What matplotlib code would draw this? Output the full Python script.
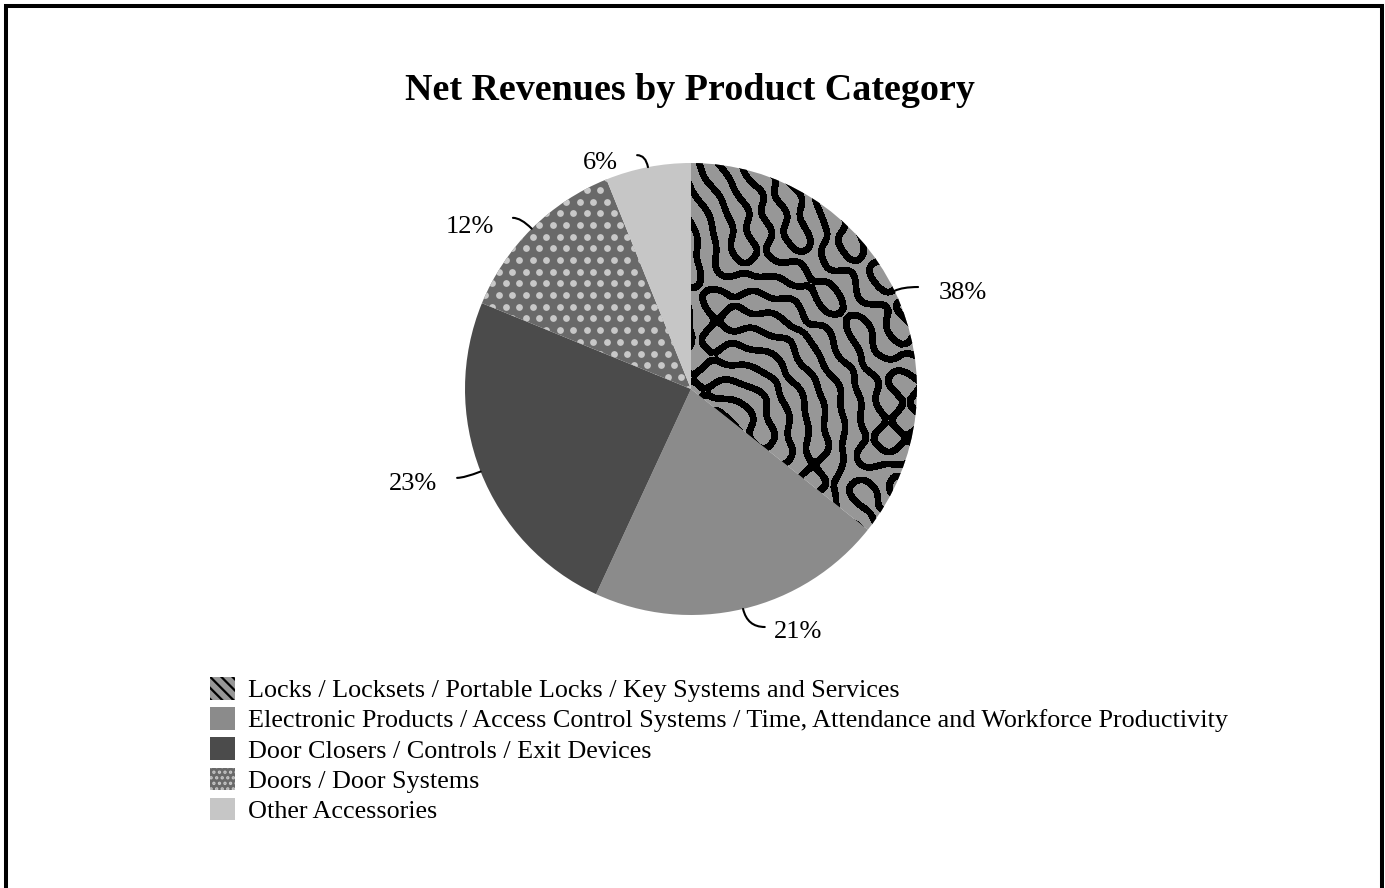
import numpy as np
import matplotlib.pyplot as plt
from matplotlib.patches import Rectangle, Patch

plt.rcParams['font.family'] = ['Liberation Serif', 'DejaVu Serif']
plt.rcParams['hatch.linewidth'] = 1.6

# data
categories = ['Locks / Locksets / Portable Locks / Key Systems and Services',
              'Electronic Products / Access Control Systems / Time, Attendance and Workforce Productivity',
              'Door Closers / Controls / Exit Devices',
              'Doors / Door Systems',
              'Other Accessories']
shares = [35.7, 21.2, 24.3, 12.7, 6.1]          # wedge sizes as drawn
pct_labels = ['38%', '21%', '23%', '12%', '6%']  # labels as printed

colors = ['#979797', '#8b8b8b', '#4b4b4b', '#696969', '#c6c6c6']
dot_color = '#c8c8c8'

# label layout, offsets from the wedge edge (radius units)
leader_end = [(0.104, 0.017), (0.096, -0.080), (-0.104, -0.028), (-0.083, 0.048), (-0.048, 0.053)]
text_off = [(0.30, -0.01), (0.245, -0.10), (-0.30, -0.054), (-0.273, 0.008), (-0.21, 0.02)]

W, H = 1385, 888
cx, cy, R = 691, 389, 226   # pie centre / radius in pixels

fig = plt.figure(figsize=(W / 100, H / 100), dpi=100)
ax = fig.add_axes([0, 0, 1, 1])

wedges, _ = ax.pie(shares, startangle=90, counterclock=False, colors=colors,
                   wedgeprops=dict(linewidth=0))
ax.set_xlim(-cx / R, (W - cx) / R)
ax.set_ylim(-(H - cy) / R, cy / R)
ax.set_aspect('auto')
ax.axis('off')

# labyrinth texture on first slice: thin even-width bands along the zero
# lines of a narrow-band wave field (lines mostly run down to the right)
gx = np.linspace(-0.05, 1.05, 900)
gy = np.linspace(-0.85, 1.05, 1500)
X, Y = np.meshgrid(gx, gy)
k = 2 * np.pi / 0.16
n_waves = 20
g = np.zeros_like(X)
for i in range(n_waves):
    phi = np.deg2rad(42 + (i / (n_waves - 1) - 0.5) * 95 + 5 * np.sin(i * 1.7))
    g += np.cos(k * (X * np.cos(phi) + Y * np.sin(phi)) + (i * 2.39996) % (2 * np.pi))
gy_, gx_ = np.gradient(g, gy, gx)
dist = np.abs(g) / (np.hypot(gx_, gy_) + 1e-9)
cs = ax.contourf(X, Y, dist, levels=[-1, 0.0135], colors='black')
cs.set_clip_path(wedges[0])

# dots on fourth slice
step = 13.5 / R
pts = []
for j, yy in enumerate(np.arange(-0.05, 1.05, step * 0.866)):
    for xx in np.arange(-1.0, 0.05, step):
        pts.append((xx + (step / 2 if j % 2 else 0), yy))
pts = np.array(pts)
sc = ax.scatter(pts[:, 0], pts[:, 1], s=24, color=dot_color, linewidths=0)
sc.set_clip_path(wedges[3])

# labels with curved leaders
for i, w in enumerate(wedges):
    th = np.deg2rad((w.theta1 + w.theta2) / 2)
    ex, ey = np.cos(th), np.sin(th)
    lx, ly = ex + leader_end[i][0], ey + leader_end[i][1]
    ax.annotate('', xy=(ex, ey), xytext=(lx, ly),
                arrowprops=dict(arrowstyle='-', lw=1.5, color='black', shrinkA=0, shrinkB=0,
                                connectionstyle='angle3,angleA=0,angleB=%.2f' % np.rad2deg(th)))
    ax.text(ex + text_off[i][0], ey + text_off[i][1], pct_labels[i], ha='center', va='center',
            fontsize=19)

fig.text(690 / W, 1 - 91 / H, 'Net Revenues by Product Category', ha='center', va='center',
         fontsize=27.4, fontweight='bold')

handles = [Patch(facecolor=colors[0], edgecolor='black', hatch='\\\\\\', linewidth=0),
           Patch(facecolor=colors[1], linewidth=0),
           Patch(facecolor=colors[2], linewidth=0),
           Patch(facecolor=colors[3], edgecolor=dot_color, hatch='...', linewidth=0),
           Patch(facecolor=colors[4], linewidth=0)]
fig.legend(handles, categories, loc='upper left', bbox_to_anchor=(210 / W, 1 - 677 / H),
           frameon=False, fontsize=18.8, handlelength=0.95, handleheight=0.95,
           handletextpad=0.5, labelspacing=0.19, borderpad=0, borderaxespad=0)

fig.patches.append(Rectangle((6 / W, -0.05), (1382 - 6) / W, 1.05 - 6 / H,
                             transform=fig.transFigure, fill=False, edgecolor='black',
                             linewidth=2.9, clip_on=False))

fig.savefig('out.png', dpi=100)
